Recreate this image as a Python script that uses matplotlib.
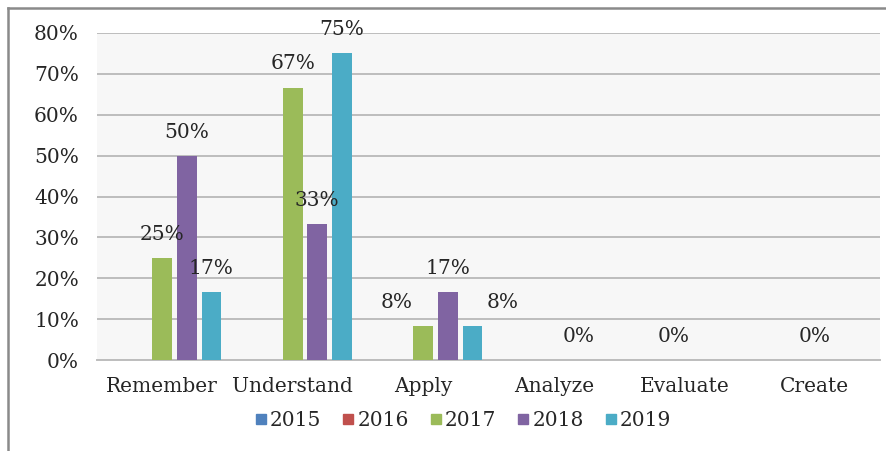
import matplotlib
matplotlib.use("Agg")
import matplotlib.pyplot as plt
from matplotlib.lines import Line2D
from matplotlib.ticker import PercentFormatter

# Bloom levels and the share of items per year
categories = ["Remember", "Understand", "Apply", "Analyze", "Evaluate", "Create"]
years = ["2015", "2016", "2017", "2018", "2019"]
share_2015 = [0, 0, 0, 0, 0, 0]
share_2016 = [0, 0, 0, 0, 0, 0]
share_2017 = [3 / 12, 8 / 12, 1 / 12, 0, 0, 0]
share_2018 = [6 / 12, 4 / 12, 2 / 12, 0, 0, 0]
share_2019 = [2 / 12, 9 / 12, 1 / 12, 0, 0, 0]
y_ticks = [0, 0.1, 0.2, 0.3, 0.4, 0.5, 0.6, 0.7, 0.8]

series = [share_2015, share_2016, share_2017, share_2018, share_2019]
colors = ["#4f81bd", "#c0504d", "#9bbb59", "#8064a2", "#4bacc6"]

# data labels: (series index, category index, horizontal nudge in points)
labels = [
    (2, 0, 0), (3, 0, 0), (4, 0, 0),
    (2, 1, 0), (3, 1, 0), (4, 1, 0),
    (2, 2, -19), (3, 2, 0), (4, 2, 22),
    (3, 3, 0), (2, 4, -8), (2, 5, 0),
]

plt.rcParams["font.family"] = ["DejaVu Serif"]
text_color = "#262626"
fs = 14.5

fig = plt.figure(figsize=(8.87, 4.51), dpi=100)
ax = fig.add_axes([97 / 887, 91 / 451, 783 / 887, 327 / 451])
ax.set_facecolor("#f7f7f7")

slot = 0.188
width = 0.15
for j, vals in enumerate(series):
    xs = [i + (j - 2) * slot for i in range(len(categories))]
    ax.bar(xs, vals, width=width, color=colors[j], label=years[j], zorder=3)

for j, i, dx in labels:
    v = series[j][i]
    x = i + (j - 2) * slot
    ax.annotate(f"{v * 100:.0f}%", (x, v), xytext=(dx, 17), textcoords="offset points",
                ha="center", va="center", fontsize=fs, color=text_color, zorder=4)

ax.set_xlim(-0.5, len(categories) - 0.5)
ax.set_ylim(0, 0.8)
ax.set_yticks(y_ticks)
ax.yaxis.set_major_formatter(PercentFormatter(1.0, decimals=0))
ax.set_xticks(range(len(categories)))
ax.set_xticklabels(categories)
ax.tick_params(axis="both", length=0, labelsize=fs, labelcolor=text_color)
ax.tick_params(axis="y", pad=13)
ax.tick_params(axis="x", pad=12)
ax.grid(axis="y", color="#bdbdbd", linewidth=1.4, zorder=1)
for side in ["top", "right", "left"]:
    ax.spines[side].set_visible(False)
ax.spines["bottom"].set_color("#bdbdbd")
ax.spines["bottom"].set_linewidth(1.4)

handles = [Line2D([], [], marker="s", linestyle="none", markersize=7.5,
                  markerfacecolor=c, markeredgecolor=c) for c in colors]
fig.legend(handles, years, loc="center", bbox_to_anchor=(463 / 887, 30 / 451),
           ncol=5, frameon=False, fontsize=fs, handlelength=0.6, handletextpad=0.15,
           columnspacing=1.05, labelcolor=text_color)

# outer frame (left and top edges)
fig.add_artist(Line2D([8 / 887, 8 / 887], [0, 1 - 8 / 451], transform=fig.transFigure,
                      color="#8a8a8a", linewidth=1.8))
fig.add_artist(Line2D([8 / 887, 1], [1 - 8 / 451, 1 - 8 / 451], transform=fig.transFigure,
                      color="#8a8a8a", linewidth=1.8))

fig.savefig("out.png", dpi=100)
